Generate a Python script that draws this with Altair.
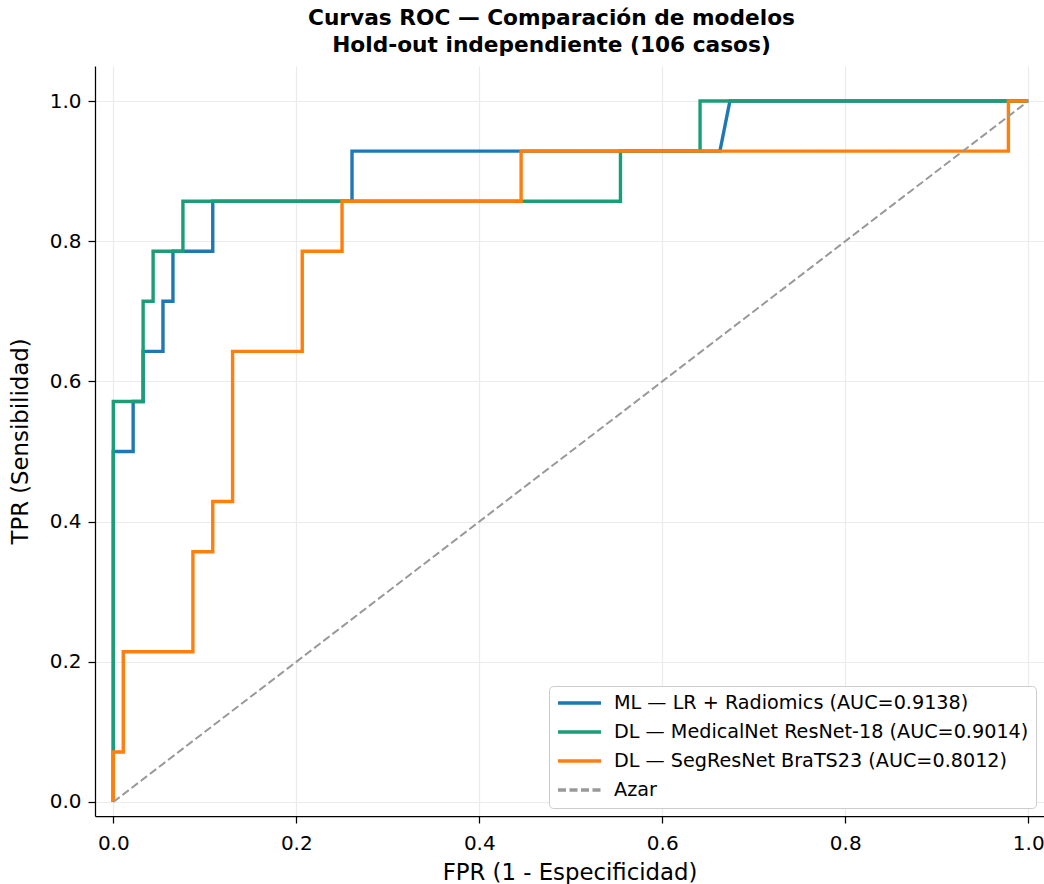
import altair as alt
import pandas as pd

MODEL_LABELS = [
    "ML — LR + Radiomics (AUC=0.9138)",
    "DL — MedicalNet ResNet-18 (AUC=0.9014)",
    "DL — SegResNet BraTS23 (AUC=0.8012)",
    "Azar",
]
COLORS = ["#1f77b4", "#1b9e77", "#ff7f0e", "#999999"]
DASHES = [[1, 0], [1, 0], [1, 0], [8, 3.5]]
WIDTHS = [3.4, 3.4, 3.4, 2]

ml_fpr = [0, 0, 0.0217, 0.0217, 0.0326, 0.0326, 0.0543, 0.0543, 0.0652, 0.0652,
          0.1087, 0.1087, 0.2609, 0.2609, 0.6630, 0.6739, 1.0]
ml_tpr = [0, 0.5, 0.5, 0.5714, 0.5714, 0.6429, 0.6429, 0.7143, 0.7143, 0.7857,
          0.7857, 0.8571, 0.8571, 0.9286, 0.9286, 1.0, 1.0]

mn_fpr = [0, 0, 0.0326, 0.0326, 0.0435, 0.0435, 0.0761, 0.0761, 0.5543, 0.5543,
          0.6413, 0.6413, 1.0]
mn_tpr = [0, 0.5714, 0.5714, 0.7143, 0.7143, 0.7857, 0.7857, 0.8571, 0.8571, 0.9286,
          0.9286, 1.0, 1.0]

sr_fpr = [0, 0, 0.0109, 0.0109, 0.0870, 0.0870, 0.1087, 0.1087, 0.1304, 0.1304,
          0.2065, 0.2065, 0.2500, 0.2500, 0.4457, 0.4457, 0.9783, 0.9783, 1.0]
sr_tpr = [0, 0.0714, 0.0714, 0.2143, 0.2143, 0.3571, 0.3571, 0.4286, 0.4286, 0.6429,
          0.6429, 0.7857, 0.7857, 0.8571, 0.8571, 0.9286, 0.9286, 1.0, 1.0]

chance_fpr = [0, 1]
chance_tpr = [0, 1]

TICKS = [0.0, 0.2, 0.4, 0.6, 0.8, 1.0]

series = [
    (MODEL_LABELS[0], ml_fpr, ml_tpr),
    (MODEL_LABELS[1], mn_fpr, mn_tpr),
    (MODEL_LABELS[2], sr_fpr, sr_tpr),
    (MODEL_LABELS[3], chance_fpr, chance_tpr),
]

FONT = "DejaVu Sans"

color_enc = alt.Color(
    "model:N",
    scale=alt.Scale(domain=MODEL_LABELS, range=COLORS),
    legend=alt.Legend(title=None),
)
dash_enc = alt.StrokeDash(
    "model:N",
    scale=alt.Scale(domain=MODEL_LABELS, range=DASHES),
    legend=alt.Legend(title=None),
)

x_enc = alt.X(
    "fpr:Q",
    scale=alt.Scale(domain=[-0.02, 1.0172], nice=False, zero=False),
    axis=alt.Axis(title="FPR (1 - Especificidad)", values=TICKS, format=".1f"),
)
y_enc = alt.Y(
    "tpr:Q",
    scale=alt.Scale(domain=[-0.02, 1.05], nice=False, zero=False),
    axis=alt.Axis(title="TPR (Sensibilidad)", values=TICKS, format=".1f"),
)

layers = []
for i, (name, fx, fy) in enumerate(series):
    df = pd.DataFrame({"fpr": fx, "tpr": fy, "i": list(range(len(fx)))})
    df["model"] = name
    layers.append(
        alt.Chart(df)
        .mark_line(strokeWidth=WIDTHS[i], strokeJoin="miter", interpolate="linear")
        .encode(x=x_enc, y=y_enc, color=color_enc, strokeDash=dash_enc, order="i:Q")
    )

chart = (
    alt.layer(*layers)
    .properties(
        width=949,
        height=750,
        autosize="none",
        padding={"left": 95, "top": 66, "right": 0, "bottom": 68},
        title=alt.Title(
            ["Curvas ROC — Comparación de modelos", "Hold-out independiente (106 casos)"],
            font=FONT,
            fontSize=21.7,
            fontWeight="bold",
            color="black",
            anchor="middle",
            lineHeight=27,
            offset=9,
            dx=-18,
        ),
    )
    .configure(background="white")
    .configure_view(stroke=None)
    .configure_axis(
        labelFont=FONT,
        labelFontSize=20,
        labelColor="black",
        titleFont=FONT,
        titleFontSize=22.8,
        titleFontWeight="normal",
        titleColor="black",
        domainColor="black",
        domainWidth=1.25,
        tickColor="black",
        tickWidth=1.25,
        tickSize=7,
        grid=True,
        gridColor="#ebebeb",
        gridWidth=1.2,
    )
    .configure_axisX(labelPadding=10, titlePadding=8)
    .configure_axisY(labelPadding=7, titlePadding=17)
    .configure_legend(
        orient="bottom-right",
        offset=8,
        fillColor="white",
        strokeColor="#cccccc",
        cornerRadius=4,
        padding=7,
        labelFont=FONT,
        labelFontSize=19.2,
        labelColor="black",
        labelOffset=11,
        symbolType="stroke",
        symbolSize=1849,
        symbolStrokeWidth=3.4,
        clipHeight=20,
        rowPadding=8,
        labelLimit=600,
    )
)

chart.save("out.html", embed_options={"renderer": "svg", "actions": False})
